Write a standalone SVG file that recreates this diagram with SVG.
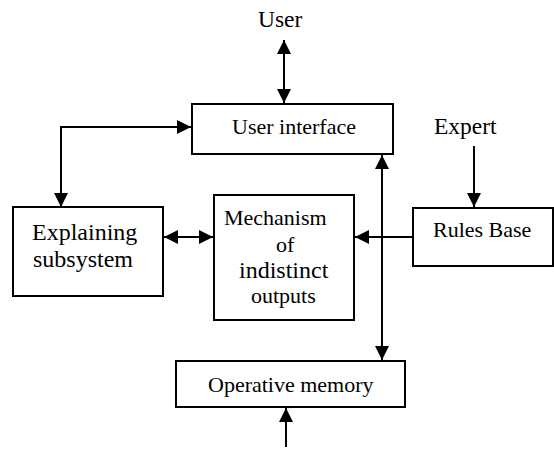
<svg xmlns="http://www.w3.org/2000/svg" width="554" height="451" viewBox="0 0 554 451">
<defs>
<style>
.box{fill:#fff;stroke:#000;stroke-width:2}
.t{font-family:"Liberation Serif","Times New Roman",serif;font-size:22px;fill:#000}
.c{fill:none;stroke:#000;stroke-width:2}
</style>
<marker id="ah" viewBox="0 0 14 14" refX="14" refY="7" markerWidth="14" markerHeight="14" markerUnits="userSpaceOnUse" orient="auto-start-reverse">
<path d="M0,0 L14,7 L0,14 Z" fill="#000"/>
</marker>
</defs>
<rect width="554" height="451" fill="#fff"/>
<g id="connectors">
<line class="c" x1="284" y1="40" x2="284" y2="103" marker-start="url(#ah)" marker-end="url(#ah)"/>
<polyline class="c" points="61,207 61,127 191,127" marker-start="url(#ah)" marker-end="url(#ah)"/>
<line class="c" x1="474" y1="146" x2="474" y2="207" marker-end="url(#ah)"/>
<line class="c" x1="164" y1="237" x2="213" y2="237" marker-start="url(#ah)" marker-end="url(#ah)"/>
<line class="c" x1="413" y1="237" x2="355" y2="237" marker-end="url(#ah)"/>
<line class="c" x1="382" y1="155" x2="382" y2="360" marker-start="url(#ah)" marker-end="url(#ah)"/>
<line class="c" x1="286" y1="447" x2="286" y2="408" marker-end="url(#ah)"/>
</g>
<g id="user"><text class="t" x="258" y="27" style="font-size:23.5px">User</text></g>
<g id="expert"><text class="t" x="434" y="134" style="font-size:23.5px">Expert</text></g>
<g id="ui">
<rect class="box" x="192" y="104" width="201" height="50"/>
<text class="t" x="232" y="134">User interface</text>
</g>
<g id="explaining">
<rect class="box" x="13" y="207" width="150" height="89"/>
<text class="t" x="32" y="240" style="font-size:24px">Explaining</text>
<text class="t" x="33" y="267" style="font-size:24px">subsystem</text>
</g>
<g id="mechanism">
<rect class="box" x="214" y="195" width="140" height="125"/>
<text class="t" x="224" y="225">Mechanism</text>
<text class="t" x="276" y="252">of</text>
<text class="t" x="239" y="278" style="font-size:24px">indistinct</text>
<text class="t" x="251" y="303">outputs</text>
</g>
<g id="rules">
<rect class="box" x="413" y="208" width="140" height="58"/>
<text class="t" x="433" y="237">Rules Base</text>
</g>
<g id="memory">
<rect class="box" x="176" y="361" width="229" height="46"/>
<text class="t" x="208" y="392">Operative memory</text>
</g>
</svg>
